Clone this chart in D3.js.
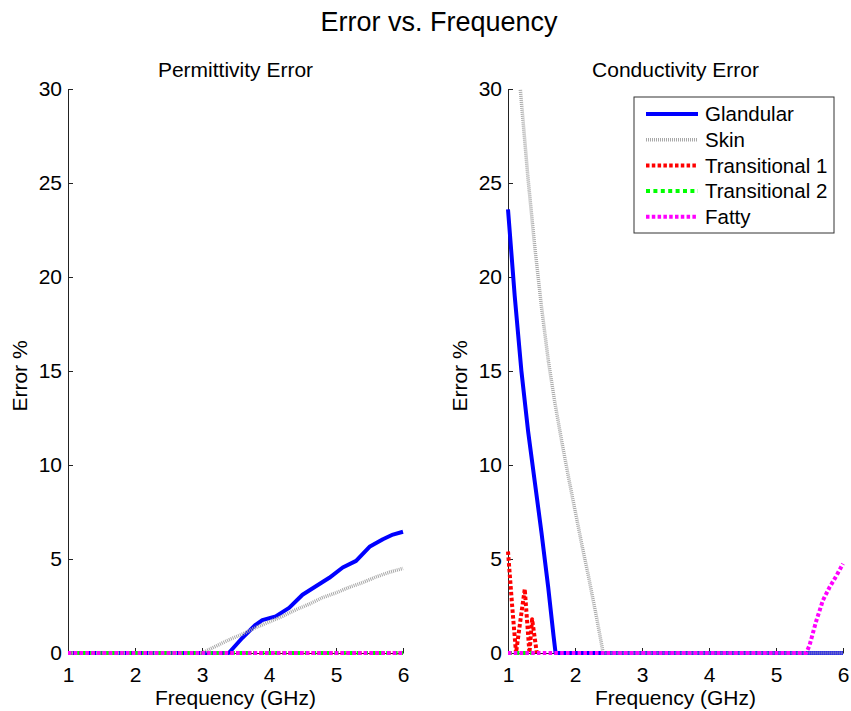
<!DOCTYPE html>
<html><head><meta charset="utf-8">
<script src="https://cdn.jsdelivr.net/npm/d3@7"></script>
<style>body{margin:0;background:#fff}svg{display:block;font-family:"Liberation Sans",Arial,sans-serif}</style>
</head><body><svg id="c" width="851" height="711"></svg>
<script>
const xTicks = [1,2,3,4,5,6];
const yTicks = [0,5,10,15,20,25,30];
const seriesNames = ["Glandular","Skin","Transitional 1","Transitional 2","Fatty"];

// Permittivity error [frequency GHz, error %]
const permGlandular = [[1,0],[3.4,0],[3.6,0.8],[3.8,1.5],[3.9,1.75],[4.1,1.95],[4.3,2.4],[4.5,3.1],[4.7,3.55],[4.9,4.0],[5.1,4.55],[5.3,4.9],[5.5,5.65],[5.7,6.05],[5.85,6.3],[6.0,6.45]];
const permSkin = [[1,0],[3.0,0],[3.2,0.35],[3.4,0.7],[3.6,1.0],[3.8,1.35],[4.0,1.65],[4.2,1.95],[4.4,2.3],[4.6,2.6],[4.8,2.95],[5.0,3.2],[5.2,3.5],[5.4,3.75],[5.6,4.05],[5.8,4.3],[6.0,4.5]];
const permTrans1 = [[1,0],[6,0]];
const permTrans2 = [[1,0],[6,0]];
const permFatty = [[1,0],[6,0]];

// Conductivity error
const condGlandular = [[1.0,23.6],[1.1,19.0],[1.2,15.0],[1.3,11.8],[1.4,9.1],[1.5,6.4],[1.6,3.5],[1.68,0.9],[1.71,0],[6,0]];
const condSkin = [[1.0,37.8],[1.1,33.6],[1.2,29.3],[1.3,25.2],[1.4,21.6],[1.5,18.4],[1.6,15.6],[1.7,13.3],[1.8,11.3],[1.9,9.4],[2.0,7.6],[2.1,5.8],[2.2,4.1],[2.3,2.3],[2.4,0.4],[2.42,0],[6,0]];
const condTrans1 = [[1.0,5.4],[1.06,2.6],[1.12,0],[1.18,1.6],[1.25,3.4],[1.32,0],[1.36,1.8],[1.43,0]];
const condTrans2 = [[1,0],[1.45,0]];
const condFatty = [[1,0],[5.45,0],[5.5,0.4],[5.6,1.7],[5.7,2.8],[5.8,3.5],[5.9,4.1],[6.0,4.75]];

const styles = [
  {color:"#0000ff", width:4, dash:null},
  {color:"#a8a8a8", width:3.5, dash:"1,1"},
  {color:"#ff0000", width:4, dash:"3.5,2.3"},
  {color:"#00ff00", width:4, dash:"4,3.4"},
  {color:"#ff00ff", width:4, dash:"3.5,2.3"}
];

const svg = d3.select("#c");
svg.append("text").attr("x",439).attr("y",31).attr("text-anchor","middle").attr("font-size",27).attr("fill","#000").text("Error vs. Frequency");

const plotTop = 89, plotBottom = 653;
const panels = [
  {left:68, right:403, title:"Permittivity Error", data:[permGlandular,permSkin,permTrans1,permTrans2,permFatty], id:"p1"},
  {left:508, right:843, title:"Conductivity Error", data:[condGlandular,condSkin,condTrans1,condTrans2,condFatty], id:"p2", legend:true}
];

panels.forEach(p => {
  const x = d3.scaleLinear().domain([1,6]).range([p.left,p.right]);
  const y = d3.scaleLinear().domain([0,30]).range([plotBottom,plotTop]);
  const g = svg.append("g");
  g.append("clipPath").attr("id","clip"+p.id).append("rect")
    .attr("x",p.left-3).attr("y",plotTop).attr("width",p.right-p.left+6).attr("height",plotBottom-plotTop+3);

  const ax = g.append("g").attr("transform",`translate(0,${plotBottom})`)
    .call(d3.axisBottom(x).tickValues(xTicks).tickSizeInner(-5).tickSizeOuter(0).tickPadding(9).tickFormat(d3.format("d")));
  const ay = g.append("g").attr("transform",`translate(${p.left},0)`)
    .call(d3.axisLeft(y).tickValues(yTicks).tickSizeInner(-5).tickSizeOuter(0).tickPadding(6).tickFormat(d3.format("d")));
  [ax,ay].forEach(a => {
    a.select(".domain").attr("stroke","#222").attr("stroke-width",1);
    a.selectAll(".tick line").attr("stroke","#222");
    a.selectAll(".tick text").attr("font-size",21).attr("fill","#000").attr("font-family","'Liberation Sans',Arial,sans-serif");
  });
  ax.selectAll(".tick text").attr("dy","0.95em");

  const line = d3.line().x(d=>x(d[0])).y(d=>y(d[1]));
  const lg = g.append("g").attr("clip-path",`url(#clip${p.id})`);
  p.data.forEach((s,i) => {
    lg.append("path").datum(s).attr("d",line).attr("fill","none")
      .attr("stroke",styles[i].color).attr("stroke-width",styles[i].width)
      .attr("stroke-dasharray",styles[i].dash).attr("stroke-linejoin","round");
  });

  g.append("text").attr("x",(p.left+p.right)/2).attr("y",77).attr("text-anchor","middle").attr("font-size",21).text(p.title);
  g.append("text").attr("x",(p.left+p.right)/2).attr("y",705).attr("text-anchor","middle").attr("font-size",21).text("Frequency (GHz)");
  g.append("text").attr("transform",`translate(${p.left-41},376) rotate(-90)`).attr("text-anchor","middle").attr("font-size",21).text("Error %");

  if (p.legend) {
    const lgd = g.append("g");
    lgd.append("rect").attr("x",634).attr("y",97).attr("width",200).attr("height",136)
      .attr("fill","#fff").attr("stroke","#333").attr("stroke-width",1);
    seriesNames.forEach((n,i) => {
      const yy = 114 + i*25.7;
      lgd.append("line").attr("x1",646).attr("x2",698).attr("y1",yy).attr("y2",yy)
        .attr("stroke",styles[i].color).attr("stroke-width",styles[i].width).attr("stroke-dasharray",styles[i].dash);
      lgd.append("text").attr("x",705).attr("y",yy).attr("dy","0.36em").attr("font-size",20.5).text(n);
    });
  }
});
</script></body></html>
